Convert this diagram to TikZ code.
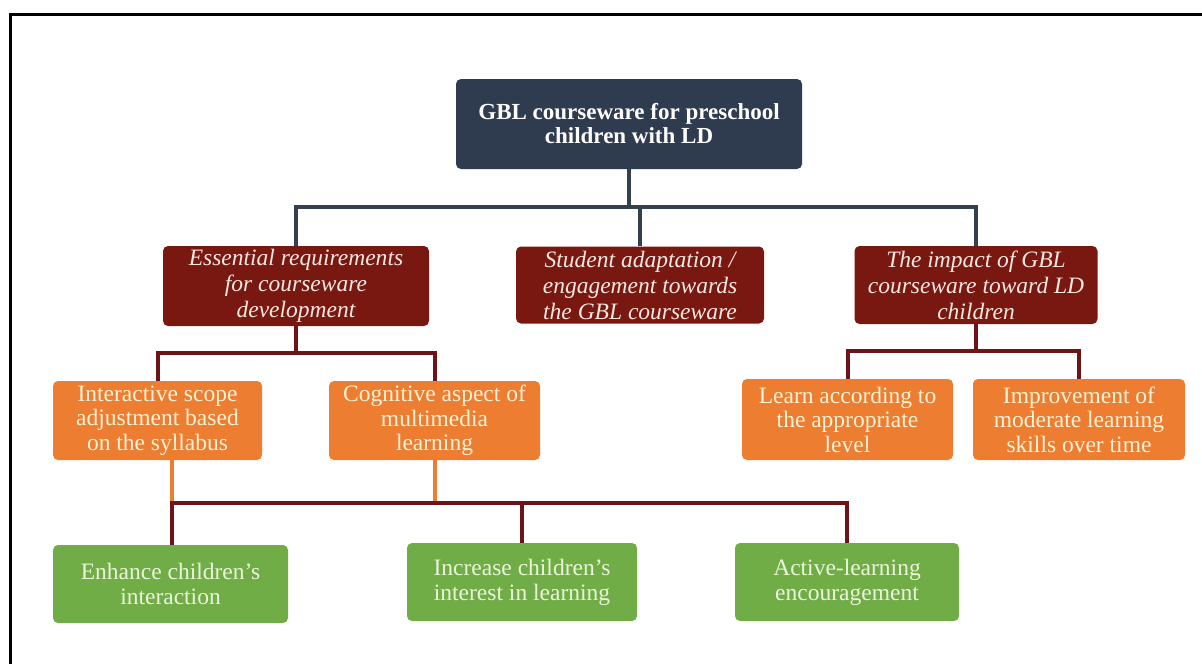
\documentclass[tikz,border=0pt]{standalone}
\usepackage{fontspec}
\setmainfont{Liberation Serif}
\definecolor{slate}{RGB}{47,59,78}
\definecolor{slateline}{RGB}{52,63,80}
\definecolor{maroon}{RGB}{120,24,17}
\definecolor{maroonline}{RGB}{108,20,24}
\definecolor{orng}{RGB}{237,125,49}
\definecolor{grn}{RGB}{112,173,71}
\definecolor{pinkwhite}{RGB}{247,232,226}
\definecolor{cream}{RGB}{255,242,214}
\definecolor{greencream}{RGB}{236,245,220}
\begin{document}
\begin{tikzpicture}
  [x=0.5pt,y=-0.5pt,
   box/.style={rounded corners=2.5pt,inner sep=0pt,align=center},
   topbox/.style={box,fill=slate,text=white,
     font=\bfseries\fontsize{11.5}{12}\selectfont},
   redbox/.style={box,fill=maroon,text=pinkwhite,
     font=\itshape\fontsize{11.75}{13}\selectfont},
   orbox/.style={box,fill=orng,text=cream,
     font=\fontsize{11.75}{12.25}\selectfont},
   grbox/.style={box,fill=grn,text=greencream,
     font=\fontsize{11.75}{12.5}\selectfont},
   topline/.style={draw=slateline,line width=2pt},
   redline/.style={draw=maroonline,line width=2pt},
   orline/.style={draw=orng,line width=2pt}]
  \useasboundingbox (0,0) rectangle (1202,664);
  \draw[line width=1.5pt] (1202,14) -- (10,14) -- (10,664);

  \node[topbox,minimum width=173pt,minimum height=45pt] (gbl) at (629,124)
    {GBL courseware for preschool\\children with LD};

  \node[redbox,minimum width=133pt,minimum height=40pt] (ess) at (296,286)
    {Essential requirements\\for courseware\\development};
  \node[redbox,minimum width=124pt,minimum height=38.5pt] (stu) at (640,285)
    {Student adaptation /\\engagement towards\\the GBL courseware};
  \node[redbox,minimum width=121.5pt,minimum height=39pt] (imp) at (976,285)
    {The impact of GBL\\courseware toward LD\\children};

  \node[orbox,minimum width=104.5pt,minimum height=39.5pt] (inter) at (157.5,420.5)
    {Interactive scope\\adjustment based\\on the syllabus};
  \node[orbox,minimum width=105.5pt,minimum height=39.5pt] (cogn) at (434.5,420.5)
    {Cognitive aspect of\\multimedia\\learning};
  \node[orbox,minimum width=105.5pt,minimum height=40.5pt] (learn) at (847.5,419.5)
    {Learn according to\\the appropriate\\level};
  \node[orbox,minimum width=106pt,minimum height=40.5pt] (impr) at (1079,419.5)
    {Improvement of\\moderate learning\\skills over time};

  \node[grbox,minimum width=117.5pt,minimum height=39pt] (enh) at (170.5,584)
    {Enhance children's\\interaction};
  \node[grbox,minimum width=115pt,minimum height=39pt] (incr) at (522,582)
    {Increase children's\\interest in learning};
  \node[grbox,minimum width=112pt,minimum height=39pt] (act) at (847,582)
    {Active-learning\\encouragement};

  \coordinate (bartop) at (0,207);
  \coordinate (barl) at (0,353);
  \coordinate (barr) at (0,351);
  \coordinate (g1) at (172,503);

  \draw[topline] (gbl.south) -- (gbl.south |- bartop) -| (ess.north);
  \draw[topline] (gbl.south |- bartop) -| (imp.north);
  \draw[topline] (stu.north) -- (stu.north |- bartop);

  \draw[redline] (ess.south) -- (ess.south |- barl) -| (inter.north);
  \draw[redline] (ess.south |- barl) -| (cogn.north);
  \draw[redline] (imp.south) -- (imp.south |- barr) -| (learn.north);
  \draw[redline] (imp.south |- barr) -| (impr.north);

  \draw[orline] (inter.south -| g1) -- (g1);
  \draw[orline] (cogn.south) -- (cogn.south |- g1);
  \draw[redline] (g1 |- enh.north) -- (g1) -- (act.north |- g1) -- (act.north);
  \draw[redline] (incr.north |- g1) -- (incr.north);

\end{tikzpicture}
\end{document}
